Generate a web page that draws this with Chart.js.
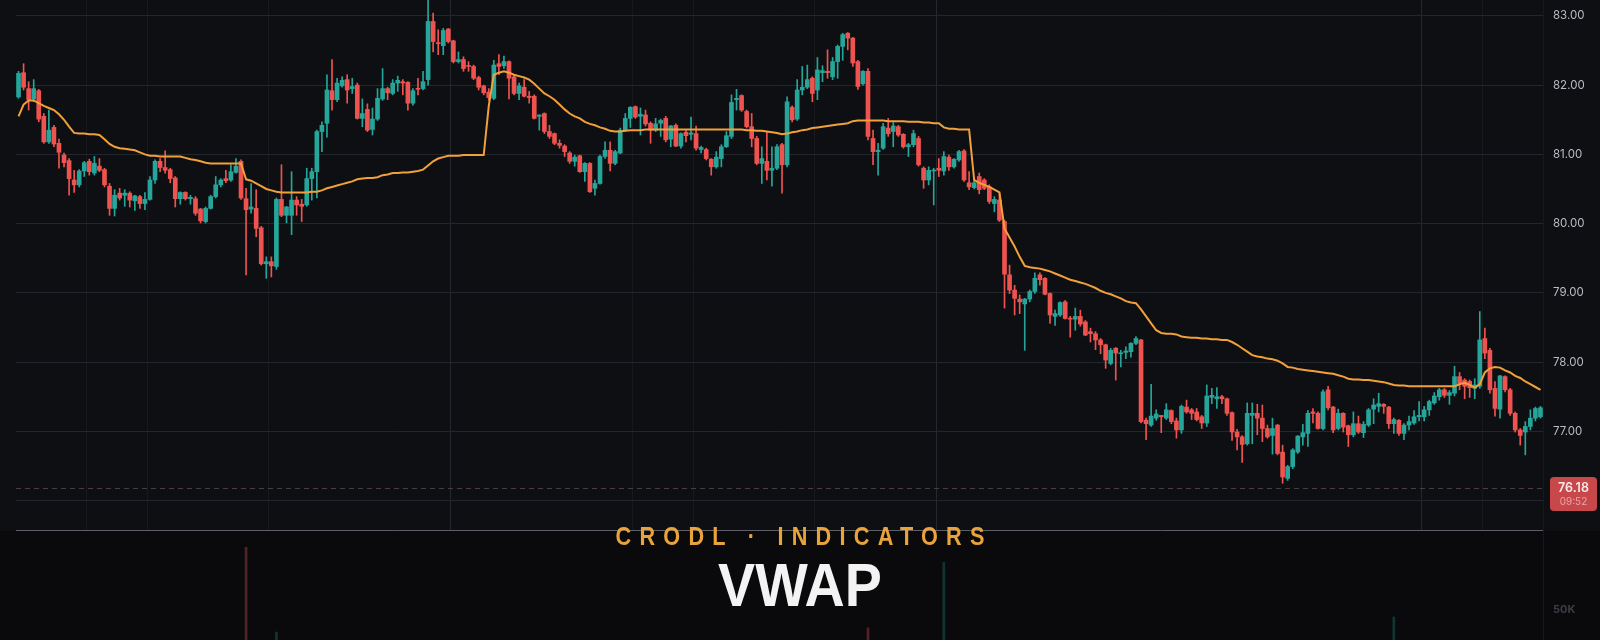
<!DOCTYPE html>
<html>
<head>
<meta charset="utf-8">
<title>CRODL · INDICATORS — VWAP</title>
<script src="https://cdn.jsdelivr.net/npm/chart.js@4.4.1/dist/chart.umd.min.js"></script>
<style>
  html, body { margin: 0; padding: 0; }
  body {
    width: 1600px; height: 640px; overflow: hidden; position: relative;
    background: #0e0f12;
  }
  #priceChart { position: absolute; left: 0; top: 0; }
  #volChart { position: absolute; left: 0; top: 531px; background: #0a0a0c; }
  .kicker, .headline {
    position: absolute; left: 0; width: 1600px; text-align: center;
    font-family: "Liberation Sans", Arial, sans-serif; font-weight: 700;
    line-height: 1; transform-origin: 800px 0; box-sizing: border-box;
    pointer-events: none;
  }
  .kicker {
    top: 524px; font-size: 25.5px; letter-spacing: 9.7px; padding-left: 9.7px;
    transform: scaleX(0.85); color: #e9a33a;
  }
  .headline {
    top: 555px; font-size: 60.5px; transform: scaleX(0.92); color: #f3f3f4;
  }
</style>
</head>
<body>
<canvas id="priceChart" width="1600" height="531"></canvas>
<canvas id="volChart" width="1600" height="109"></canvas>
<div class="kicker">CRODL · INDICATORS</div>
<div class="headline">VWAP</div>

<script>
// candle data (one entry per candle, left to right)
const opens = [
  81.83,82.18,81.95,81.80,81.92,81.55,81.18,81.39,81.16,80.99,
  80.91,80.63,80.56,80.76,80.90,80.73,80.83,80.78,80.54,80.22,
  80.44,80.41,80.44,80.33,80.39,80.29,80.35,80.63,80.90,80.81,
  80.78,80.66,80.36,80.45,80.36,80.36,80.21,80.03,80.22,80.39,
  80.56,80.65,80.63,80.74,80.90,80.36,80.21,80.22,79.94,79.42,
  79.45,79.38,80.35,80.12,80.12,80.34,80.28,80.27,80.65,80.75,
  81.33,81.45,81.92,81.79,81.99,82.08,81.95,82.00,81.52,81.65,
  81.36,81.51,81.80,81.95,81.88,82.03,82.05,82.04,81.74,81.95,
  81.95,82.08,82.92,82.61,82.57,82.81,82.64,82.34,82.37,82.28,
  82.27,82.11,81.99,81.90,81.81,82.31,82.28,82.34,82.12,81.88,
  81.97,81.84,81.84,81.55,81.59,81.33,81.30,81.16,81.12,81.02,
  80.90,80.98,80.75,80.87,80.51,80.58,80.97,81.06,80.87,81.02,
  81.35,81.52,81.69,81.55,81.57,81.45,81.35,81.45,81.52,81.22,
  81.42,81.12,81.32,81.29,81.30,81.07,81.07,80.93,80.82,80.94,
  81.11,81.26,81.79,81.85,81.62,81.40,81.23,80.87,80.90,80.77,
  80.80,81.14,80.85,81.68,81.51,81.93,81.97,82.10,81.93,82.18,
  82.20,82.12,82.34,82.56,82.75,82.68,82.34,82.02,82.20,81.23,
  81.04,81.09,81.38,81.33,81.40,81.29,81.11,81.14,81.23,80.80,
  80.63,80.76,80.80,80.76,80.96,80.82,80.92,81.05,80.59,80.52,
  80.68,80.63,80.53,80.29,80.34,80.03,79.26,79.04,78.91,78.84,
  78.91,79.02,79.26,79.21,78.99,78.66,78.68,78.87,78.63,78.62,
  78.66,78.58,78.44,78.41,78.32,78.25,77.98,78.20,78.12,78.14,
  78.15,78.27,78.32,77.16,77.09,77.19,77.23,77.19,77.30,77.15,
  77.02,77.35,77.31,77.28,77.21,77.12,77.49,77.47,77.50,77.47,
  77.27,76.99,76.92,76.82,77.23,77.26,77.19,77.04,76.94,77.09,
  76.70,76.32,76.49,76.70,76.92,76.97,77.28,77.26,77.04,77.60,
  77.35,77.04,77.26,77.08,76.95,77.11,76.98,77.09,77.32,77.36,
  77.39,77.35,77.11,77.16,76.97,77.09,77.12,77.21,77.21,77.31,
  77.41,77.50,77.60,77.52,77.55,77.79,77.74,77.72,77.62,77.65,
  78.34,78.17,77.62,77.32,77.79,77.60,77.26,77.02,76.99,77.07,
  77.19,77.21
];
const highs = [
  82.20,82.31,82.05,82.08,81.94,81.59,81.64,81.42,81.22,81.02,
  80.94,80.77,80.78,80.90,80.93,80.97,80.94,80.80,80.58,80.49,
  80.51,80.49,80.46,80.41,80.41,80.45,80.68,80.92,80.94,81.05,
  80.80,80.68,80.46,80.46,80.41,80.39,80.22,80.24,80.41,80.68,
  80.65,80.77,80.85,80.94,80.92,80.51,80.58,80.49,79.96,79.52,
  79.52,80.37,80.85,80.25,80.75,80.39,80.35,80.80,80.80,81.35,
  81.47,82.15,82.37,82.10,82.12,82.15,82.10,82.03,81.80,81.73,
  81.67,81.95,82.24,81.97,82.08,82.13,82.08,82.05,81.95,82.10,
  82.20,83.25,83.04,82.80,82.82,82.82,82.65,82.48,82.41,82.34,
  82.29,82.13,82.00,81.95,82.36,82.44,82.42,82.35,82.15,82.03,
  82.08,81.91,81.86,81.57,81.60,81.42,81.31,81.21,81.14,81.04,
  80.99,80.99,80.88,80.88,80.63,80.99,81.18,81.18,81.06,81.38,
  81.59,81.69,81.70,81.67,81.64,81.47,81.52,81.51,81.55,81.42,
  81.44,81.31,81.35,81.54,81.41,81.12,81.09,80.94,81.04,81.14,
  81.33,81.86,81.94,81.86,81.64,81.59,81.26,81.11,81.33,81.11,
  81.14,81.16,81.83,81.70,82.08,82.27,82.29,82.12,82.40,82.28,
  82.51,82.40,82.58,82.75,82.76,82.69,82.36,82.21,82.24,81.35,
  81.16,81.45,81.52,81.46,81.42,81.30,81.16,81.35,81.26,80.82,
  80.82,80.80,80.94,81.04,80.99,80.94,81.06,81.07,80.75,80.63,
  80.73,80.65,80.56,80.39,80.44,80.05,79.40,79.11,78.97,78.92,
  79.04,79.29,79.29,79.22,79.00,78.75,78.87,78.89,78.66,78.78,
  78.75,78.60,78.49,78.44,78.34,78.26,78.20,78.21,78.17,78.22,
  78.28,78.37,78.33,77.19,77.68,77.31,77.23,77.40,77.31,77.19,
  77.38,77.45,77.33,77.33,77.23,77.67,77.62,77.63,77.52,77.48,
  77.28,77.03,76.94,77.41,77.41,77.39,77.38,77.09,77.19,77.10,
  76.80,76.51,76.75,76.94,77.10,77.30,77.33,77.28,77.60,77.65,
  77.36,77.32,77.27,77.09,77.28,77.22,77.14,77.33,77.47,77.55,
  77.40,77.36,77.19,77.17,77.11,77.22,77.30,77.43,77.36,77.45,
  77.56,77.62,77.62,77.59,77.94,77.85,77.76,77.74,77.76,78.73,
  78.49,78.20,77.72,77.81,77.80,77.62,77.28,77.04,77.14,77.31,
  77.35,77.36
];
const lows = [
  81.81,81.93,81.64,81.76,81.47,81.16,81.16,81.11,80.80,80.82,
  80.41,80.45,80.53,80.68,80.70,80.70,80.75,80.53,80.12,80.11,
  80.34,80.25,80.24,80.19,80.22,80.20,80.34,80.58,80.75,80.73,
  80.59,80.24,80.28,80.34,80.28,80.12,80.01,80.01,80.21,80.37,
  80.53,80.59,80.61,80.73,80.35,79.26,80.15,79.81,79.40,79.21,
  79.23,79.34,80.10,80.01,79.84,80.12,80.03,80.25,80.34,80.37,
  81.04,81.25,81.64,81.76,81.97,81.74,81.88,81.51,81.40,81.33,
  81.28,81.49,81.78,81.79,81.86,81.91,81.86,81.64,81.71,81.86,
  81.93,82.00,82.48,82.44,82.44,82.61,82.32,82.32,82.20,82.20,
  82.08,81.93,81.86,81.78,81.79,82.15,82.24,81.80,81.86,81.79,
  81.83,81.74,81.51,81.35,81.30,81.23,81.14,81.09,80.97,80.87,
  80.83,80.74,80.61,80.45,80.41,80.57,80.94,80.76,80.85,81.01,
  81.33,81.39,81.52,81.28,81.41,81.16,81.33,81.26,81.18,81.11,
  81.11,81.09,81.18,81.21,81.06,81.02,80.92,80.70,80.80,80.82,
  81.10,81.23,81.64,81.62,81.38,81.11,80.85,80.58,80.63,80.54,
  80.78,80.44,80.82,81.47,81.49,81.86,81.95,81.76,81.79,82.05,
  82.10,82.08,82.10,82.36,82.51,82.27,81.94,82.00,81.21,80.85,
  80.70,81.07,81.26,81.11,81.26,81.09,80.97,81.11,80.83,80.51,
  80.56,80.27,80.68,80.70,80.77,80.80,80.90,80.61,80.49,80.50,
  80.43,80.49,80.29,80.17,80.03,78.78,78.99,78.68,78.70,78.17,
  78.87,78.99,79.11,78.97,78.56,78.53,78.66,78.62,78.36,78.46,
  78.52,78.38,78.29,78.18,78.12,77.91,77.96,77.74,77.93,78.05,
  78.07,78.25,77.12,76.88,77.07,77.16,76.98,77.17,77.11,76.90,
  76.97,77.26,77.17,77.15,77.04,77.07,77.40,77.33,77.40,77.23,
  76.87,76.73,76.55,76.80,76.82,76.95,76.85,76.90,76.67,76.66,
  76.25,76.29,76.46,76.68,76.80,76.78,77.12,77.03,77.02,77.31,
  76.98,77.02,76.99,76.78,76.92,76.97,76.91,77.07,77.11,77.28,
  77.26,77.04,76.97,76.94,76.88,77.02,77.10,77.15,77.15,77.23,
  77.39,77.45,77.49,77.39,77.51,77.60,77.47,77.49,77.47,77.62,
  78.05,77.55,77.22,77.19,77.57,77.23,76.99,76.80,76.66,77.02,
  77.15,77.19
];
const closes = [
  82.17,81.97,81.79,81.95,81.51,81.18,81.35,81.15,81.03,80.88,
  80.65,80.56,80.76,80.88,80.75,80.87,80.77,80.56,80.22,80.41,
  80.37,80.44,80.34,80.40,80.29,80.35,80.63,80.90,80.81,80.77,
  80.65,80.36,80.45,80.36,80.38,80.15,80.04,80.22,80.39,80.56,
  80.63,80.62,80.75,80.83,80.37,80.20,80.24,79.93,79.42,79.45,
  79.39,80.35,80.12,80.24,80.34,80.27,80.25,80.65,80.75,81.33,
  81.42,81.93,81.79,82.03,82.07,81.93,81.98,81.52,81.59,81.35,
  81.51,81.81,81.95,81.89,82.03,82.07,82.03,81.74,81.92,81.94,
  82.05,82.92,82.63,82.60,82.79,82.63,82.34,82.37,82.24,82.27,
  82.10,81.97,81.89,81.82,82.29,82.27,82.34,82.10,81.88,81.99,
  81.84,81.82,81.52,81.57,81.33,81.26,81.16,81.13,81.04,80.90,
  80.96,80.75,80.87,80.46,80.58,80.97,81.06,80.87,81.04,81.35,
  81.52,81.68,81.54,81.58,81.44,81.35,81.44,81.49,81.21,81.41,
  81.12,81.30,81.27,81.31,81.09,81.10,80.94,80.82,80.96,81.11,
  81.27,81.75,81.81,81.64,81.40,81.23,80.87,80.94,80.77,80.80,
  81.11,80.85,81.76,81.50,81.93,81.97,82.08,81.88,82.22,82.21,
  82.18,82.34,82.56,82.73,82.68,82.32,81.98,82.20,81.26,81.04,
  81.06,81.40,81.30,81.41,81.28,81.11,81.14,81.30,80.85,80.63,
  80.77,80.77,80.77,80.97,80.82,80.93,81.04,80.63,80.53,80.59,
  80.49,80.51,80.32,80.35,80.05,79.27,79.04,78.92,78.87,78.91,
  79.02,79.21,79.19,78.98,78.68,78.70,78.86,78.63,78.62,78.66,
  78.55,78.39,78.41,78.32,78.25,78.03,78.17,78.13,78.13,78.16,
  78.27,78.34,77.14,77.11,77.22,77.25,77.21,77.31,77.14,77.02,
  77.36,77.28,77.26,77.17,77.12,77.51,77.52,77.50,77.47,77.26,
  76.99,76.92,76.81,77.26,77.26,77.19,77.04,76.92,77.04,76.68,
  76.34,76.49,76.73,76.93,76.98,77.26,77.26,77.04,77.57,77.34,
  77.02,77.26,77.06,76.95,77.11,76.99,77.10,77.31,77.38,77.40,
  77.36,77.11,77.17,76.97,77.09,77.14,77.21,77.23,77.31,77.43,
  77.51,77.60,77.52,77.56,77.79,77.69,77.65,77.63,77.67,78.32,
  78.13,77.60,77.33,77.80,77.60,77.26,77.02,76.94,77.07,77.19,
  77.33,77.34
];
// VWAP line, one value per candle
const vwap = [
  81.55,81.72,81.78,81.78,81.74,81.70,81.67,81.64,81.58,81.50,
  81.40,81.31,81.30,81.30,81.29,81.29,81.28,81.22,81.15,81.11,
  81.09,81.08,81.07,81.06,81.03,81.00,80.98,80.98,80.97,80.97,
  80.97,80.97,80.97,80.95,80.93,80.92,80.90,80.88,80.87,80.87,
  80.87,80.87,80.87,80.87,80.87,80.64,80.62,80.58,80.54,80.50,
  80.48,80.46,80.45,80.45,80.45,80.45,80.45,80.45,80.46,80.46,
  80.48,80.51,80.53,80.55,80.57,80.59,80.61,80.64,80.65,80.66,
  80.66,80.67,80.70,80.71,80.73,80.73,80.74,80.74,80.75,80.76,
  80.78,80.84,80.90,80.94,80.96,80.98,80.98,80.98,80.99,80.99,
  80.99,80.99,80.99,81.70,82.15,82.18,82.20,82.18,82.15,82.13,
  82.11,82.08,82.02,81.95,81.88,81.84,81.79,81.72,81.65,81.59,
  81.55,81.52,81.47,81.44,81.42,81.39,81.37,81.34,81.33,81.33,
  81.34,81.35,81.35,81.35,81.36,81.36,81.36,81.36,81.36,81.36,
  81.36,81.36,81.36,81.36,81.36,81.36,81.36,81.36,81.36,81.36,
  81.36,81.36,81.36,81.36,81.35,81.35,81.34,81.34,81.33,81.32,
  81.31,81.29,81.30,81.32,81.33,81.35,81.36,81.38,81.39,81.40,
  81.41,81.42,81.43,81.44,81.45,81.48,81.49,81.49,81.49,81.49,
  81.49,81.49,81.48,81.48,81.48,81.48,81.47,81.47,81.47,81.46,
  81.46,81.45,81.45,81.39,81.37,81.37,81.36,81.36,81.36,80.63,
  80.59,80.56,80.53,80.49,80.45,79.93,79.80,79.67,79.52,79.39,
  79.37,79.36,79.35,79.33,79.31,79.28,79.25,79.22,79.19,79.17,
  79.15,79.13,79.10,79.07,79.03,79.00,78.98,78.95,78.92,78.88,
  78.86,78.85,78.76,78.66,78.56,78.46,78.42,78.41,78.41,78.40,
  78.37,78.36,78.35,78.35,78.34,78.34,78.33,78.33,78.32,78.32,
  78.29,78.25,78.20,78.15,78.10,78.08,78.07,78.05,78.04,78.02,
  77.98,77.93,77.92,77.90,77.89,77.88,77.87,77.86,77.85,77.84,
  77.83,77.81,77.79,77.76,77.75,77.75,77.74,77.74,77.73,77.72,
  77.71,77.69,77.67,77.66,77.66,77.65,77.65,77.65,77.65,77.65,
  77.65,77.65,77.65,77.65,77.65,77.68,77.70,77.67,77.63,77.68,
  77.85,77.91,77.93,77.92,77.88,77.85,77.80,77.77,77.72,77.68,
  77.64,77.60
];
// the few volume bars that show through in the bottom pane
const volIndex = [45, 51, 168, 183, 272];
const volValues = [153000, 13000, 20000, 128000, 38000];

const priceTicks = [76, 77, 78, 79, 80, 81, 82, 83];
const volTicks = [50000];
const lastPrice = 76.18;
const lastTime = "09:52";

// candle slots where a vertical grid line sits
const gridMajor = [86, 182, 278];
const gridMinor = [14, 26, 50, 122, 134, 158, 290];

const UP = "#26a69a";
const DOWN = "#ef5350";
const labels = opens.map((_, i) => i);
const candleColors = opens.map((o, i) => (closes[i] >= o ? UP : DOWN));

function vGrid(ctx) {
  if (gridMajor.includes(ctx.index)) return "#25282e";
  if (gridMinor.includes(ctx.index)) return "#17191d";
  return "rgba(0,0,0,0)";
}

// fixed layout helpers: right axis 57px wide, x axis takes no height
function fixRightAxis(scale) {
  scale.width = 57;
  scale.paddingTop = 0;
  scale.paddingBottom = 0;
}
function flatX(scale) {
  scale.height = 0;
  scale.paddingLeft = 0;
  scale.paddingRight = 0;
}

//last price line + badge + pane separator
const lastPricePlugin = {
  id: "lastPrice",
  beforeDatasetsDraw(chart) {
    const { ctx, chartArea } = chart;
    const y = Math.round(chart.scales.y.getPixelForValue(lastPrice)) + 0.5;
    ctx.save();
    ctx.strokeStyle = "#4a3c40";
    ctx.lineWidth = 1;
    ctx.setLineDash([5, 4]);
    ctx.beginPath();
    ctx.moveTo(chartArea.left, y);
    ctx.lineTo(chartArea.right, y);
    ctx.stroke();
    ctx.restore();
  },
  afterDraw(chart) {
    const { ctx, chartArea } = chart;
    const y = chart.scales.y.getPixelForValue(lastPrice);
    ctx.save();
    // separator between price and volume panes
    ctx.strokeStyle = "#5c5f65";
    ctx.lineWidth = 1;
    ctx.beginPath();
    ctx.moveTo(chartArea.left, chartArea.bottom - 0.5);
    ctx.lineTo(chartArea.right, chartArea.bottom - 0.5);
    ctx.stroke();
    // badge
    const bx = chartArea.right + 7, by = y - 11, bw = 47, bh = 34;
    ctx.fillStyle = "#c8474a";
    ctx.beginPath();
    ctx.roundRect(bx, by, bw, bh, 4);
    ctx.fill();
    ctx.textAlign = "center";
    ctx.textBaseline = "middle";
    ctx.fillStyle = "#f6e9e9";
    ctx.font = "600 12.5px Inter, 'Liberation Sans', sans-serif";
    ctx.fillText(lastPrice.toFixed(2), bx + bw / 2, by + 11);
    ctx.fillStyle = "rgba(255,220,220,0.62)";
    ctx.font = "10px Inter, 'Liberation Sans', sans-serif";
    ctx.fillText(lastTime, bx + bw / 2, by + 25);
    ctx.restore();
  }
};

// Price Chart
const priceChart = new Chart(document.getElementById("priceChart"), {
  type: "bar",
  data: {
    labels: labels,
    datasets: [
      {
        type: "line",
        label: "VWAP",
        data: vwap,
        borderColor: "#f2a03a",
        borderWidth: 2,
        pointRadius: 0,
        tension: 0,
        order: 0,
      },
      {
        label: "wicks",
        data: lows.map((l, i) => [l, highs[i]]),
        backgroundColor: candleColors,
        barThickness: 1,
        grouped: false,
        order: 2,
      },
      {
        label: "bodies",
        data: opens.map((o, i) => [o, closes[i]]),
        backgroundColor: candleColors,
        barThickness: 4,
        minBarLength: 1,
        grouped: false,
        order: 1,
      },
    ],
  },
  options: {
    responsive: false,
    animation: false,
    events: [],
    layout: { padding: { left: 16, top: 0, right: 0, bottom: 0 } },
    plugins: { legend: { display: false }, tooltip: { enabled: false } },
    scales: {
      x: {
        type: "category",
        afterFit: flatX,
        ticks: { display: false, autoSkip: false },
        grid: { color: vGrid, drawTicks: false, offset: true },
        border: { display: false },
      },
      y: {
        position: "right",
        min: 75.56,
        max: 83.23,
        afterBuildTicks: (s) => { s.ticks = priceTicks.map((v) => ({ value: v })); },
        afterFit: fixRightAxis,
        ticks: {
          padding: 10,
          color: "#b9bcc3",
          font: { family: "Inter, 'Liberation Sans', sans-serif", size: 11.5 },
          callback: (v) => Number(v).toFixed(2),
        },
        grid: { color: "#23262c", drawTicks: false },
        border: { display: true, color: "#16181c" },
      },
    },
  },
  plugins: [lastPricePlugin],
});

// Volume pane
const volData = labels.map(() => null);
const volColors = labels.map((i) => (candleColors[i] === UP ? "rgba(38,166,154,0.28)" : "rgba(239,83,80,0.32)"));
volIndex.forEach((k, j) => { volData[k] = volValues[j]; });

const volChart = new Chart(document.getElementById("volChart"), {
  type: "bar",
  data: {
    labels: labels,
    datasets: [
      {
        label: "volume",
        data: volData,
        backgroundColor: volColors,
        barThickness: 2,
      },
    ],
  },
  options: {
    responsive: false,
    animation: false,
    events: [],
    layout: { padding: { left: 16, top: 0, right: 0, bottom: 0 } },
    plugins: { legend: { display: false }, tooltip: { enabled: false } },
    scales: {
      x: {
        type: "category",
        afterFit: flatX,
        ticks: { display: false, autoSkip: false },
        grid: { display: false },
        border: { display: false },
      },
      y: {
        position: "right",
        min: 0,
        max: 180000,
        afterBuildTicks: (s) => { s.ticks = volTicks.map((v) => ({ value: v })); },
        afterFit: fixRightAxis,
        ticks: {
          padding: 10,
          color: "#3b3e45",
          font: { family: "Inter, 'Liberation Sans', sans-serif", size: 11, weight: "bold" },
          callback: (v) => Math.round(v / 1000) + "K",
        },
        grid: { display: false, drawTicks: false },
        border: { display: true, color: "#16181c" },
      },
    },
  },
});
</script>
</body>
</html>
